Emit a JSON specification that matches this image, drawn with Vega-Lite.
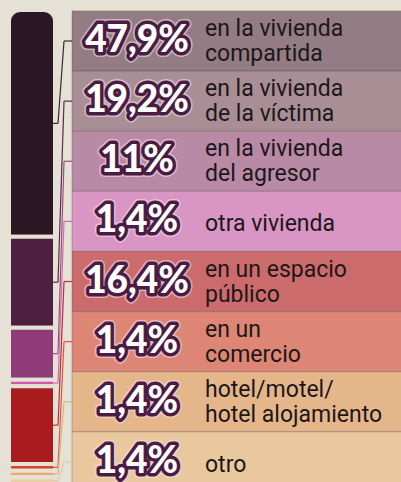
{
  "$schema": "https://vega.github.io/schema/vega-lite/v6.json",
  "width": 401,
  "height": 482,
  "autosize": {"type": "none"},
  "padding": 0,
  "background": "#e6e1d5",
  "config": {
    "view": {"stroke": null},
    "locale": {"number": {"decimal": ",", "thousands": ".", "grouping": [3], "currency": ["", " €"]}}
  },
  "data": {
    "values": [
      {"lugar": "en la vivienda\ncompartida", "share": 0.479},
      {"lugar": "en la vivienda\nde la víctima", "share": 0.192},
      {"lugar": "en la vivienda\ndel agresor", "share": 0.11},
      {"lugar": "otra vivienda", "share": 0.014},
      {"lugar": "en un espacio\npúblico", "share": 0.164},
      {"lugar": "en un\ncomercio", "share": 0.014},
      {"lugar": "hotel/motel/\nhotel alojamiento", "share": 0.014},
      {"lugar": "otro", "share": 0.014}
    ]
  },
  "transform": [
    {"window": [{"op": "row_number", "as": "rank"}]},
    {"stack": "share", "groupby": [], "sort": [{"field": "rank", "order": "ascending"}], "as": ["s0", "s1"]},
    {"calculate": "(datum.s0 + datum.s1) / 2", "as": "sm"},
    {"calculate": "(datum.rank - 1) * 0.127 + 0.002", "as": "r0"},
    {"calculate": "datum.rank * 0.127 + 0.002", "as": "r1"},
    {"calculate": "(datum.rank - 0.5) * 0.127 + 0.002", "as": "rm"}
  ],
  "layer": [
    {
      "mark": {"type": "rect", "stroke": "#5e4b52", "strokeOpacity": 0.35, "strokeWidth": 1},
      "encoding": {
        "x": {"value": 72},
        "x2": {"value": 402},
        "y": {"field": "r0", "type": "quantitative", "axis": null, "scale": {"domain": [-0.0211, 0.997], "reverse": true, "nice": false, "zero": false}},
        "y2": {"field": "r1"},
        "fill": {"field": "lugar", "type": "nominal", "legend": null, "scale": {
          "domain": ["en la vivienda\ncompartida", "en la vivienda\nde la víctima", "en la vivienda\ndel agresor", "otra vivienda", "en un espacio\npúblico", "en un\ncomercio", "hotel/motel/\nhotel alojamiento", "otro"],
          "range": ["#937c83", "#a98e95", "#b98aa5", "#d995c4", "#cc6b6c", "#de8675", "#e6b68b", "#eac89e"]}}
      }
    },
    {
      "transform": [{"filter": "datum.rank == 1"}],
      "mark": {"type": "rect", "stroke": "#e6e1d5", "strokeWidth": 4, "cornerRadiusTopLeft": 11, "cornerRadiusTopRight": 11},
      "encoding": {
        "x": {"value": 9},
        "x2": {"value": 55},
        "y": {"field": "s0", "type": "quantitative", "axis": null, "scale": {"domain": [-0.0211, 0.997], "reverse": true, "nice": false, "zero": false}},
        "y2": {"field": "s1"},
        "fill": {"field": "lugar", "type": "nominal", "legend": null, "scale": {
          "domain": ["en la vivienda\ncompartida", "en la vivienda\nde la víctima", "en la vivienda\ndel agresor", "otra vivienda", "en un espacio\npúblico", "en un\ncomercio", "hotel/motel/\nhotel alojamiento", "otro"],
          "range": ["#2c1623", "#4e1f40", "#8e3b77", "#d456ab", "#aa1b1f", "#d7442f", "#e5ad6f", "#ebcfa4"]}}
      }
    },
    {
      "transform": [{"filter": "datum.rank > 1"}],
      "mark": {"type": "rect", "stroke": "#e6e1d5", "strokeWidth": 4},
      "encoding": {
        "x": {"value": 9},
        "x2": {"value": 55},
        "y": {"field": "s0", "type": "quantitative", "axis": null, "scale": {"domain": [-0.0211, 0.997], "reverse": true, "nice": false, "zero": false}},
        "y2": {"field": "s1"},
        "fill": {"field": "lugar", "type": "nominal", "legend": null, "scale": {
          "domain": ["en la vivienda\ncompartida", "en la vivienda\nde la víctima", "en la vivienda\ndel agresor", "otra vivienda", "en un espacio\npúblico", "en un\ncomercio", "hotel/motel/\nhotel alojamiento", "otro"],
          "range": ["#2c1623", "#4e1f40", "#8e3b77", "#d456ab", "#aa1b1f", "#d7442f", "#e5ad6f", "#ebcfa4"]}}
      }
    },
    {
      "mark": {"type": "rule", "strokeWidth": 1.2},
      "encoding": {
        "x": {"value": 53},
        "x2": {"value": 58},
        "y": {"field": "sm", "type": "quantitative", "axis": null, "scale": {"domain": [-0.0211, 0.997], "reverse": true, "nice": false, "zero": false}},
        "stroke": {"field": "lugar", "type": "nominal", "legend": null, "scale": {
          "domain": ["en la vivienda\ncompartida", "en la vivienda\nde la víctima", "en la vivienda\ndel agresor", "otra vivienda", "en un espacio\npúblico", "en un\ncomercio", "hotel/motel/\nhotel alojamiento", "otro"],
          "range": ["#3a2832", "#5a2d4b", "#9a4d86", "#d56ab3", "#b8302f", "#e0543c", "#d9b38a", "#dcc8a6"]}}
      }
    },
    {
      "mark": {"type": "rule", "strokeWidth": 1.2},
      "encoding": {
        "x": {"value": 58},
        "x2": {"value": 64},
        "y": {"field": "sm", "type": "quantitative", "axis": null, "scale": {"domain": [-0.0211, 0.997], "reverse": true, "nice": false, "zero": false}},
        "y2": {"field": "rm"},
        "stroke": {"field": "lugar", "type": "nominal", "legend": null, "scale": {
          "domain": ["en la vivienda\ncompartida", "en la vivienda\nde la víctima", "en la vivienda\ndel agresor", "otra vivienda", "en un espacio\npúblico", "en un\ncomercio", "hotel/motel/\nhotel alojamiento", "otro"],
          "range": ["#3a2832", "#5a2d4b", "#9a4d86", "#d56ab3", "#b8302f", "#e0543c", "#d9b38a", "#dcc8a6"]}}
      }
    },
    {
      "mark": {"type": "rule", "strokeWidth": 1.2},
      "encoding": {
        "x": {"value": 64},
        "x2": {"value": 72},
        "y": {"field": "rm", "type": "quantitative", "axis": null, "scale": {"domain": [-0.0211, 0.997], "reverse": true, "nice": false, "zero": false}},
        "stroke": {"field": "lugar", "type": "nominal", "legend": null, "scale": {
          "domain": ["en la vivienda\ncompartida", "en la vivienda\nde la víctima", "en la vivienda\ndel agresor", "otra vivienda", "en un espacio\npúblico", "en un\ncomercio", "hotel/motel/\nhotel alojamiento", "otro"],
          "range": ["#3a2832", "#5a2d4b", "#9a4d86", "#d56ab3", "#b8302f", "#e0543c", "#d9b38a", "#dcc8a6"]}}
      }
    },
    {
      "mark": {"type": "text", "font": "Lato", "fontWeight": 900, "fontSize": 37, "align": "center", "baseline": "middle", "fill": "#efdfe9", "stroke": "#efdfe9", "strokeWidth": 10, "strokeJoin": "round", "opacity": 0.6},
      "encoding": {
        "x": {"value": 137},
        "y": {"field": "rm", "type": "quantitative", "axis": null, "scale": {"domain": [-0.0211, 0.997], "reverse": true, "nice": false, "zero": false}},
        "text": {"field": "share", "type": "quantitative", "format": ".1~%"}
      }
    },
    {
      "mark": {"type": "text", "font": "Lato", "fontWeight": 900, "fontSize": 37, "align": "center", "baseline": "middle", "fill": "#4b1c43", "stroke": "#4b1c43", "strokeWidth": 7, "strokeJoin": "round"},
      "encoding": {
        "x": {"value": 137},
        "y": {"field": "rm", "type": "quantitative", "axis": null, "scale": {"domain": [-0.0211, 0.997], "reverse": true, "nice": false, "zero": false}},
        "text": {"field": "share", "type": "quantitative", "format": ".1~%"}
      }
    },
    {
      "mark": {"type": "text", "font": "Lato", "fontWeight": 900, "fontSize": 37, "align": "center", "baseline": "middle", "fill": "#ffffff"},
      "encoding": {
        "x": {"value": 137},
        "y": {"field": "rm", "type": "quantitative", "axis": null, "scale": {"domain": [-0.0211, 0.997], "reverse": true, "nice": false, "zero": false}},
        "text": {"field": "share", "type": "quantitative", "format": ".1~%"}
      }
    },
    {
      "transform": [{"filter": "indexof(datum.lugar, '\\n') >= 0"}],
      "mark": {"type": "text", "font": "Roboto", "fontSize": 23, "align": "left", "baseline": "middle", "lineBreak": "\n", "lineHeight": 25, "dy": -12, "fill": "#1c1719"},
      "encoding": {
        "x": {"value": 205},
        "y": {"field": "rm", "type": "quantitative", "axis": null, "scale": {"domain": [-0.0211, 0.997], "reverse": true, "nice": false, "zero": false}},
        "text": {"field": "lugar", "type": "nominal"}
      }
    },
    {
      "transform": [{"filter": "indexof(datum.lugar, '\\n') < 0"}],
      "mark": {"type": "text", "font": "Roboto", "fontSize": 23, "align": "left", "baseline": "middle", "dy": 3, "fill": "#1c1719"},
      "encoding": {
        "x": {"value": 205},
        "y": {"field": "rm", "type": "quantitative", "axis": null, "scale": {"domain": [-0.0211, 0.997], "reverse": true, "nice": false, "zero": false}},
        "text": {"field": "lugar", "type": "nominal"}
      }
    }
  ],
  "resolve": {"scale": {"fill": "independent", "stroke": "independent"}}
}
